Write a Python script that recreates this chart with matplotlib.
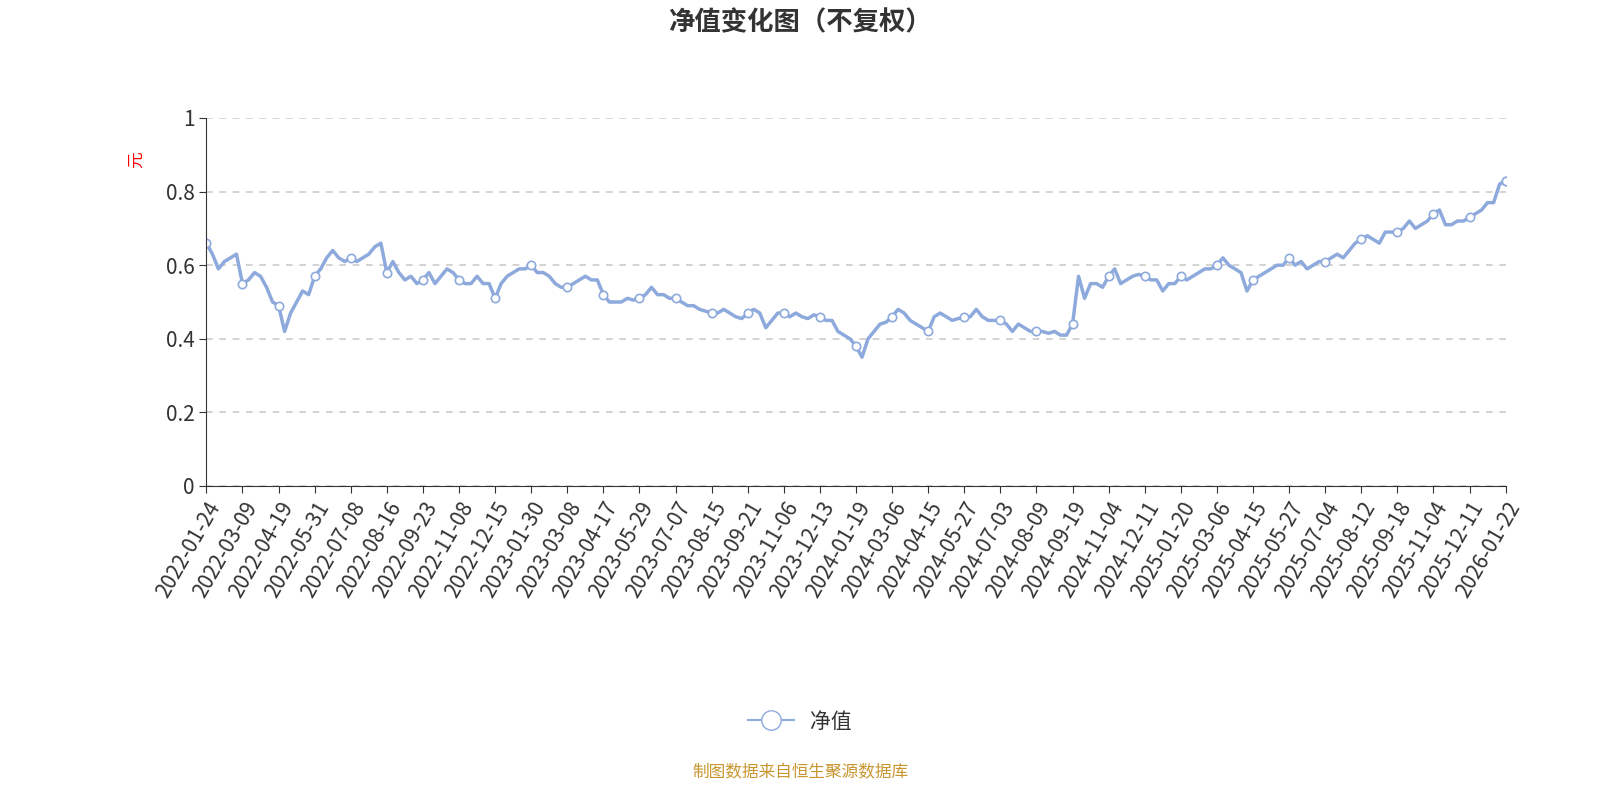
import matplotlib
matplotlib.use("Agg")
import matplotlib.pyplot as plt
from matplotlib.lines import Line2D

plt.rcParams['font.family'] = ['Noto Sans CJK SC', 'DejaVu Sans']

# 净值 (每6个点对应一个日期刻度)
values = [
    0.66, 0.63, 0.59, 0.61, 0.62, 0.63,
    0.55, 0.56, 0.58, 0.57, 0.54, 0.50,
    0.49, 0.42, 0.47, 0.50, 0.53, 0.52,
    0.57, 0.59, 0.62, 0.64, 0.62, 0.61,
    0.62, 0.61, 0.62, 0.63, 0.65, 0.66,
    0.58, 0.61, 0.58, 0.56, 0.57, 0.55,
    0.56, 0.58, 0.55, 0.57, 0.59, 0.58,
    0.56, 0.55, 0.55, 0.57, 0.55, 0.55,
    0.51, 0.55, 0.57, 0.58, 0.59, 0.59,
    0.60, 0.58, 0.58, 0.57, 0.55, 0.54,
    0.54, 0.55, 0.56, 0.57, 0.56, 0.56,
    0.52, 0.50, 0.50, 0.50, 0.51, 0.505,
    0.51, 0.52, 0.54, 0.52, 0.52, 0.51,
    0.51, 0.50, 0.49, 0.49, 0.48, 0.475,
    0.47, 0.47, 0.48, 0.47, 0.46, 0.455,
    0.47, 0.48, 0.47, 0.43, 0.45, 0.47,
    0.47, 0.46, 0.47, 0.46, 0.455, 0.465,
    0.46, 0.45, 0.45, 0.42, 0.41, 0.40,
    0.38, 0.35, 0.40, 0.42, 0.44, 0.445,
    0.46, 0.48, 0.47, 0.45, 0.44, 0.43,
    0.42, 0.46, 0.47, 0.46, 0.45, 0.455,
    0.46, 0.46, 0.48, 0.46, 0.45, 0.45,
    0.45, 0.44, 0.42, 0.44, 0.43, 0.42,
    0.42, 0.42, 0.415, 0.42, 0.41, 0.41,
    0.44, 0.57, 0.51, 0.55, 0.55, 0.54,
    0.57, 0.59, 0.55, 0.56, 0.57, 0.575,
    0.57, 0.56, 0.56, 0.53, 0.55, 0.55,
    0.57, 0.56, 0.57, 0.58, 0.59, 0.59,
    0.60, 0.62, 0.60, 0.59, 0.58, 0.53,
    0.56, 0.57, 0.58, 0.59, 0.60, 0.60,
    0.62, 0.60, 0.61, 0.59, 0.60, 0.61,
    0.61, 0.62, 0.63, 0.62, 0.64, 0.66,
    0.67, 0.68, 0.67, 0.66, 0.69, 0.69,
    0.69, 0.70, 0.72, 0.70, 0.71, 0.72,
    0.74, 0.75, 0.71, 0.71, 0.72, 0.72,
    0.73, 0.74, 0.75, 0.77, 0.77, 0.82,
    0.83,
]

tick_labels = [
    "2022-01-24", "2022-03-09", "2022-04-19", "2022-05-31", "2022-07-08",
    "2022-08-16", "2022-09-23", "2022-11-08", "2022-12-15", "2023-01-30",
    "2023-03-08", "2023-04-17", "2023-05-29", "2023-07-07", "2023-08-15",
    "2023-09-21", "2023-11-06", "2023-12-13", "2024-01-19", "2024-03-06",
    "2024-04-15", "2024-05-27", "2024-07-03", "2024-08-09", "2024-09-19",
    "2024-11-04", "2024-12-11", "2025-01-20", "2025-03-06", "2025-04-15",
    "2025-05-27", "2025-07-04", "2025-08-12", "2025-09-18", "2025-11-04",
    "2025-12-11", "2026-01-22",
]

color = "#8eaadc"
step = 6
x = list(range(len(values)))

fig = plt.figure(figsize=(16, 8), dpi=100)
ax = fig.add_axes([0.129, 0.3925, 0.812, 0.46])

ax.plot(x, values, color=color, linewidth=2.5, marker="o", markersize=6,
        markerfacecolor="white", markeredgecolor=color, markeredgewidth=1.2,
        markevery=list(range(0, len(values), step)) + [len(values) - 1])

ax.set_xlim(0, len(values) - 1)
ax.set_ylim(0, 1)
ax.set_yticks([0, 0.2, 0.4, 0.6, 0.8, 1])
ax.set_yticklabels(["0", "0.2", "0.4", "0.6", "0.8", "1"])
ax.set_xticks(list(range(0, len(values), step)))
ax.set_xticklabels(tick_labels, rotation=60, ha="right", rotation_mode="anchor")
ax.tick_params(axis="both", labelsize=15, colors="#333333", length=5)
ax.tick_params(axis="both", color="#333333")
ax.grid(axis="y", linestyle=(0, (4, 4)), color="#cccccc", linewidth=1.2)
ax.set_axisbelow(True)
for s in ["top", "right"]:
    ax.spines[s].set_visible(False)
for s in ["left", "bottom"]:
    ax.spines[s].set_color("#333333")

fig.text(0.085, 0.80, "元", color="red", fontsize=12, rotation=90, ha="center", va="center")
fig.text(0.5, 0.972, "净值变化图（不复权）", fontsize=19, fontweight="bold",
         color="#333333", ha="center", va="center")

handle = Line2D([], [], color=color, linewidth=1.5, marker="o", markersize=14,
                markerfacecolor="white", markeredgecolor=color)
fig.legend(handles=[handle], labels=["净值"], loc="center", bbox_to_anchor=(0.5, 0.098),
           frameon=False, fontsize=15, handlelength=2.2, labelcolor="#333333")

fig.text(0.5, 0.034, "制图数据来自恒生聚源数据库", color="#c8962e", fontsize=12,
         ha="center", va="center")

fig.savefig("out.png", dpi=100)
